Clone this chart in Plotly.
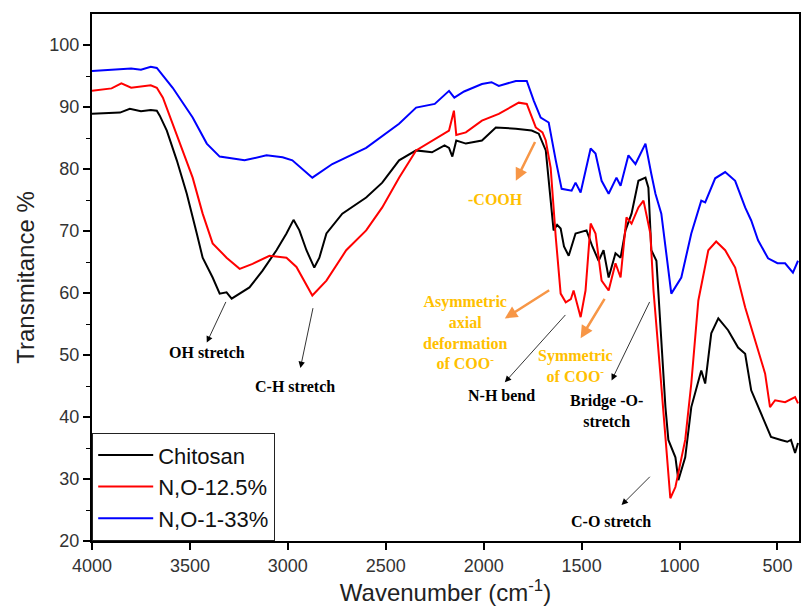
import plotly.graph_objects as go

# FTIR spectra: wavenumber (cm-1) vs. transmittance (%)
chitosan_wn = [4000, 3900, 3857, 3807, 3750, 3700, 3669, 3654, 3618, 3567, 3516, 3465, 3435, 3384,
               3348, 3313, 3287, 3196, 3129, 3058, 3007, 2971, 2941, 2905, 2865, 2839, 2803, 2722,
               2600, 2518, 2432, 2345, 2264, 2200, 2177, 2160, 2140, 2091, 2009, 1938, 1836, 1755,
               1719, 1683, 1658, 1643, 1625, 1607, 1590, 1566, 1531, 1475, 1445, 1413, 1388, 1362,
               1327, 1301, 1276, 1245, 1210, 1174, 1159, 1144, 1118, 1108, 1093, 1072, 1057, 1040,
               1021, 1006, 971, 940, 904, 889, 869, 838, 802, 752, 701, 665, 634, 584, 533, 482,
               450, 431, 410, 395]
chitosan_t = [88.9, 89.0, 89.1, 89.7, 89.3, 89.5, 89.4, 88.6, 86.2, 81.4, 76.0, 69.6, 65.7, 62.5,
              59.9, 60.1, 59.1, 60.9, 63.6, 66.9, 69.6, 71.8, 70.1, 66.9, 64.1, 65.7, 69.6, 72.8,
              75.4, 77.8, 81.4, 83.0, 82.7, 83.8, 83.4, 82.0, 84.6, 84.1, 84.6, 86.7, 86.5, 86.2,
              85.7, 83.0, 74.9, 70.1, 71.0, 70.4, 67.5, 66.0, 69.6, 70.1, 67.5, 65.2, 66.9, 62.5,
              66.4, 65.7, 70.1, 72.8, 78.1, 78.6, 77.0, 66.9, 65.2, 60.4, 52.4, 41.6, 36.3, 35.0,
              33.5, 29.8, 33.5, 41.6, 45.9, 47.5, 45.4, 53.5, 55.9, 54.0, 51.2, 50.2, 44.3, 40.6,
              36.8, 36.3, 36.0, 36.3, 34.2, 35.8]

no125_wn = [4000, 3900, 3850, 3800, 3700, 3669, 3638, 3588, 3537, 3486, 3435, 3384, 3313, 3246,
            3180, 3094, 3007, 2956, 2875, 2803, 2702, 2600, 2518, 2432, 2345, 2264, 2177, 2152,
            2140, 2091, 2009, 1923, 1821, 1780, 1734, 1700, 1683, 1658, 1632, 1607, 1581, 1555,
            1541, 1505, 1480, 1454, 1429, 1398, 1362, 1327, 1301, 1271, 1245, 1210, 1184, 1149,
            1133, 1098, 1072, 1047, 1021, 971, 940, 904, 853, 813, 767, 716, 665, 614, 563, 538,
            512, 461, 410, 395]
no125_t = [92.6, 93.0, 93.8, 93.1, 93.5, 93.1, 91.5, 87.3, 83.0, 78.6, 72.8, 68.0, 65.7, 63.9,
           64.7, 66.0, 65.7, 64.2, 59.6, 62.0, 66.9, 70.1, 73.8, 78.6, 83.0, 84.6, 86.2, 89.4,
           85.5, 85.9, 87.8, 88.9, 90.7, 90.5, 86.7, 85.9, 84.6, 80.2, 69.0, 59.9, 58.5, 59.0,
           60.4, 56.1, 60.4, 71.2, 69.6, 62.0, 60.4, 64.8, 62.5, 72.2, 71.2, 73.8, 74.9, 69.6,
           60.4, 47.0, 36.3, 26.9, 28.7, 36.3, 45.4, 58.8, 66.9, 68.3, 66.9, 64.1, 57.7, 52.4,
           47.0, 41.6, 42.7, 42.4, 43.2, 42.2]

no133_wn = [4000, 3900, 3800, 3750, 3700, 3669, 3588, 3486, 3414, 3348, 3221, 3109, 3027, 2977,
            2875, 2773, 2600, 2432, 2345, 2250, 2177, 2150, 2100, 2009, 1960, 1923, 1836, 1780,
            1744, 1709, 1668, 1632, 1602, 1551, 1531, 1505, 1454, 1429, 1413, 1398, 1362, 1322,
            1301, 1261, 1225, 1174, 1144, 1123, 1093, 1042, 991, 940, 889, 869, 818, 767, 716,
            665, 634, 599, 548, 500, 461, 421, 395]
no133_t = [95.8, 96.0, 96.2, 96.0, 96.5, 96.3, 93.1, 88.3, 84.1, 82.0, 81.4, 82.2, 81.9, 81.4,
           78.6, 80.8, 83.4, 87.3, 89.9, 90.5, 92.6, 91.5, 92.5, 93.7, 94.0, 93.4, 94.2, 94.2,
           91.0, 88.3, 87.5, 81.4, 76.8, 76.5, 77.8, 76.2, 83.3, 82.5, 80.0, 78.1, 76.0, 78.6,
           77.3, 82.2, 80.8, 84.1, 79.2, 76.0, 72.8, 59.9, 62.5, 69.6, 74.9, 74.6, 78.5, 79.5,
           78.1, 73.8, 71.7, 68.5, 65.6, 64.8, 64.8, 63.3, 65.2]

series_names = ["Chitosan", "N,O-12.5%", "N,O-1-33%"]
series_colors = ["#000000", "#FF0000", "#0000FF"]

fig = go.Figure()
for name, color, wn, t in zip(series_names, series_colors,
                              [chitosan_wn, no125_wn, no133_wn],
                              [chitosan_t, no125_t, no133_t]):
    fig.add_trace(go.Scatter(x=wn, y=t, mode="lines", name=name,
                             line=dict(color=color, width=2)))

# Band assignments: (text, x, y)
black_labels = [
    ("OH stretch", 3414, 50.4),
    ("C-H stretch", 2961, 45.0),
    ("N-H bend", 1907, 43.5),
    ("Bridge -O-<br>stretch", 1373, 40.9),
    ("C-O stretch", 1352, 23.1),
]
gold_labels = [
    ("-COOH", 1938, 75.1),
    ("Asymmetric<br>axial<br>deformation<br>of COO<sup>-</sup>", 2091, 53.7),
    ("Symmetric<br>of COO<sup>-</sup>", 1531, 48.3),
]
# arrows: (tail_x, tail_y, head_x, head_y)
black_arrows = [
    (3313, 58.8, 3414, 52.0),
    (2870, 57.8, 2936, 47.9),
    (1576, 56.7, 1892, 45.6),
    (1149, 58.8, 1347, 45.9),
    (1144, 30.6, 1296, 25.8),
]
orange_arrows = [
    (1734, 84.6, 1836, 78.1),
    (1658, 60.6, 1892, 55.9),
    (1378, 59.3, 1505, 52.7),
]

serif = "Liberation Serif, Times New Roman, serif"
for txt, x, y in black_labels:
    fig.add_annotation(x=x, y=y, text="<b>" + txt + "</b>", showarrow=False,
                       font=dict(family=serif, size=16, color="#000000"))
for txt, x, y in gold_labels:
    fig.add_annotation(x=x, y=y, text="<b>" + txt + "</b>", showarrow=False,
                       font=dict(family=serif, size=16, color="#FFC000"))
for tx, ty, hx, hy in black_arrows:
    fig.add_annotation(x=hx, y=hy, ax=tx, ay=ty, axref="x", ayref="y", text="",
                       showarrow=True, arrowhead=2, arrowsize=1.6, arrowwidth=0.8,
                       arrowcolor="#000000", standoff=0, startstandoff=0)
for tx, ty, hx, hy in orange_arrows:
    fig.add_annotation(x=hx, y=hy, ax=tx, ay=ty, axref="x", ayref="y", text="",
                       showarrow=True, arrowhead=2, arrowsize=1.0, arrowwidth=2.5,
                       arrowcolor="#F79646", standoff=0, startstandoff=0)

sans = "Arial, Liberation Sans, sans-serif"
fig.update_layout(
    width=802, height=608,
    margin=dict(l=92, r=1, t=14, b=67),
    plot_bgcolor="white", paper_bgcolor="white",
    font=dict(family=sans),
    legend=dict(x=0, y=0, xanchor="left", yanchor="bottom",
                bordercolor="#222222", borderwidth=1.2, bgcolor="white",
                font=dict(family=sans, size=22, color="#111111"),
                itemwidth=55, tracegroupgap=0),
)
fig.update_xaxes(
    range=[4000, 390], tickvals=[4000, 3500, 3000, 2500, 2000, 1500, 1000, 500],
    ticks="outside", ticklen=7, tickwidth=1.5, tickcolor="#000000",
    showline=True, linewidth=2, linecolor="#000000", mirror=True,
    showgrid=False, zeroline=False,
    tickfont=dict(family=sans, size=18, color="#333333"),
    title=dict(text="Wavenumber (cm<sup>-1</sup>)", font=dict(family=sans, size=24, color="#222222"),
               standoff=10),
)
fig.update_yaxes(
    range=[20, 105], tickvals=[20, 30, 40, 50, 60, 70, 80, 90, 100],
    ticks="outside", ticklen=7, tickwidth=1.5, tickcolor="#000000",
    minor=dict(tickvals=[25, 35, 45, 55, 65, 75, 85, 95], ticks="outside", ticklen=4,
               tickwidth=1.2, tickcolor="#000000"),
    showline=True, linewidth=2, linecolor="#000000", mirror=True,
    showgrid=False, zeroline=False,
    tickfont=dict(family=sans, size=18, color="#333333"),
    title=dict(text="Transmitance %", font=dict(family=sans, size=24, color="#222222"),
               standoff=8),
)

fig.write_html("out.html")
